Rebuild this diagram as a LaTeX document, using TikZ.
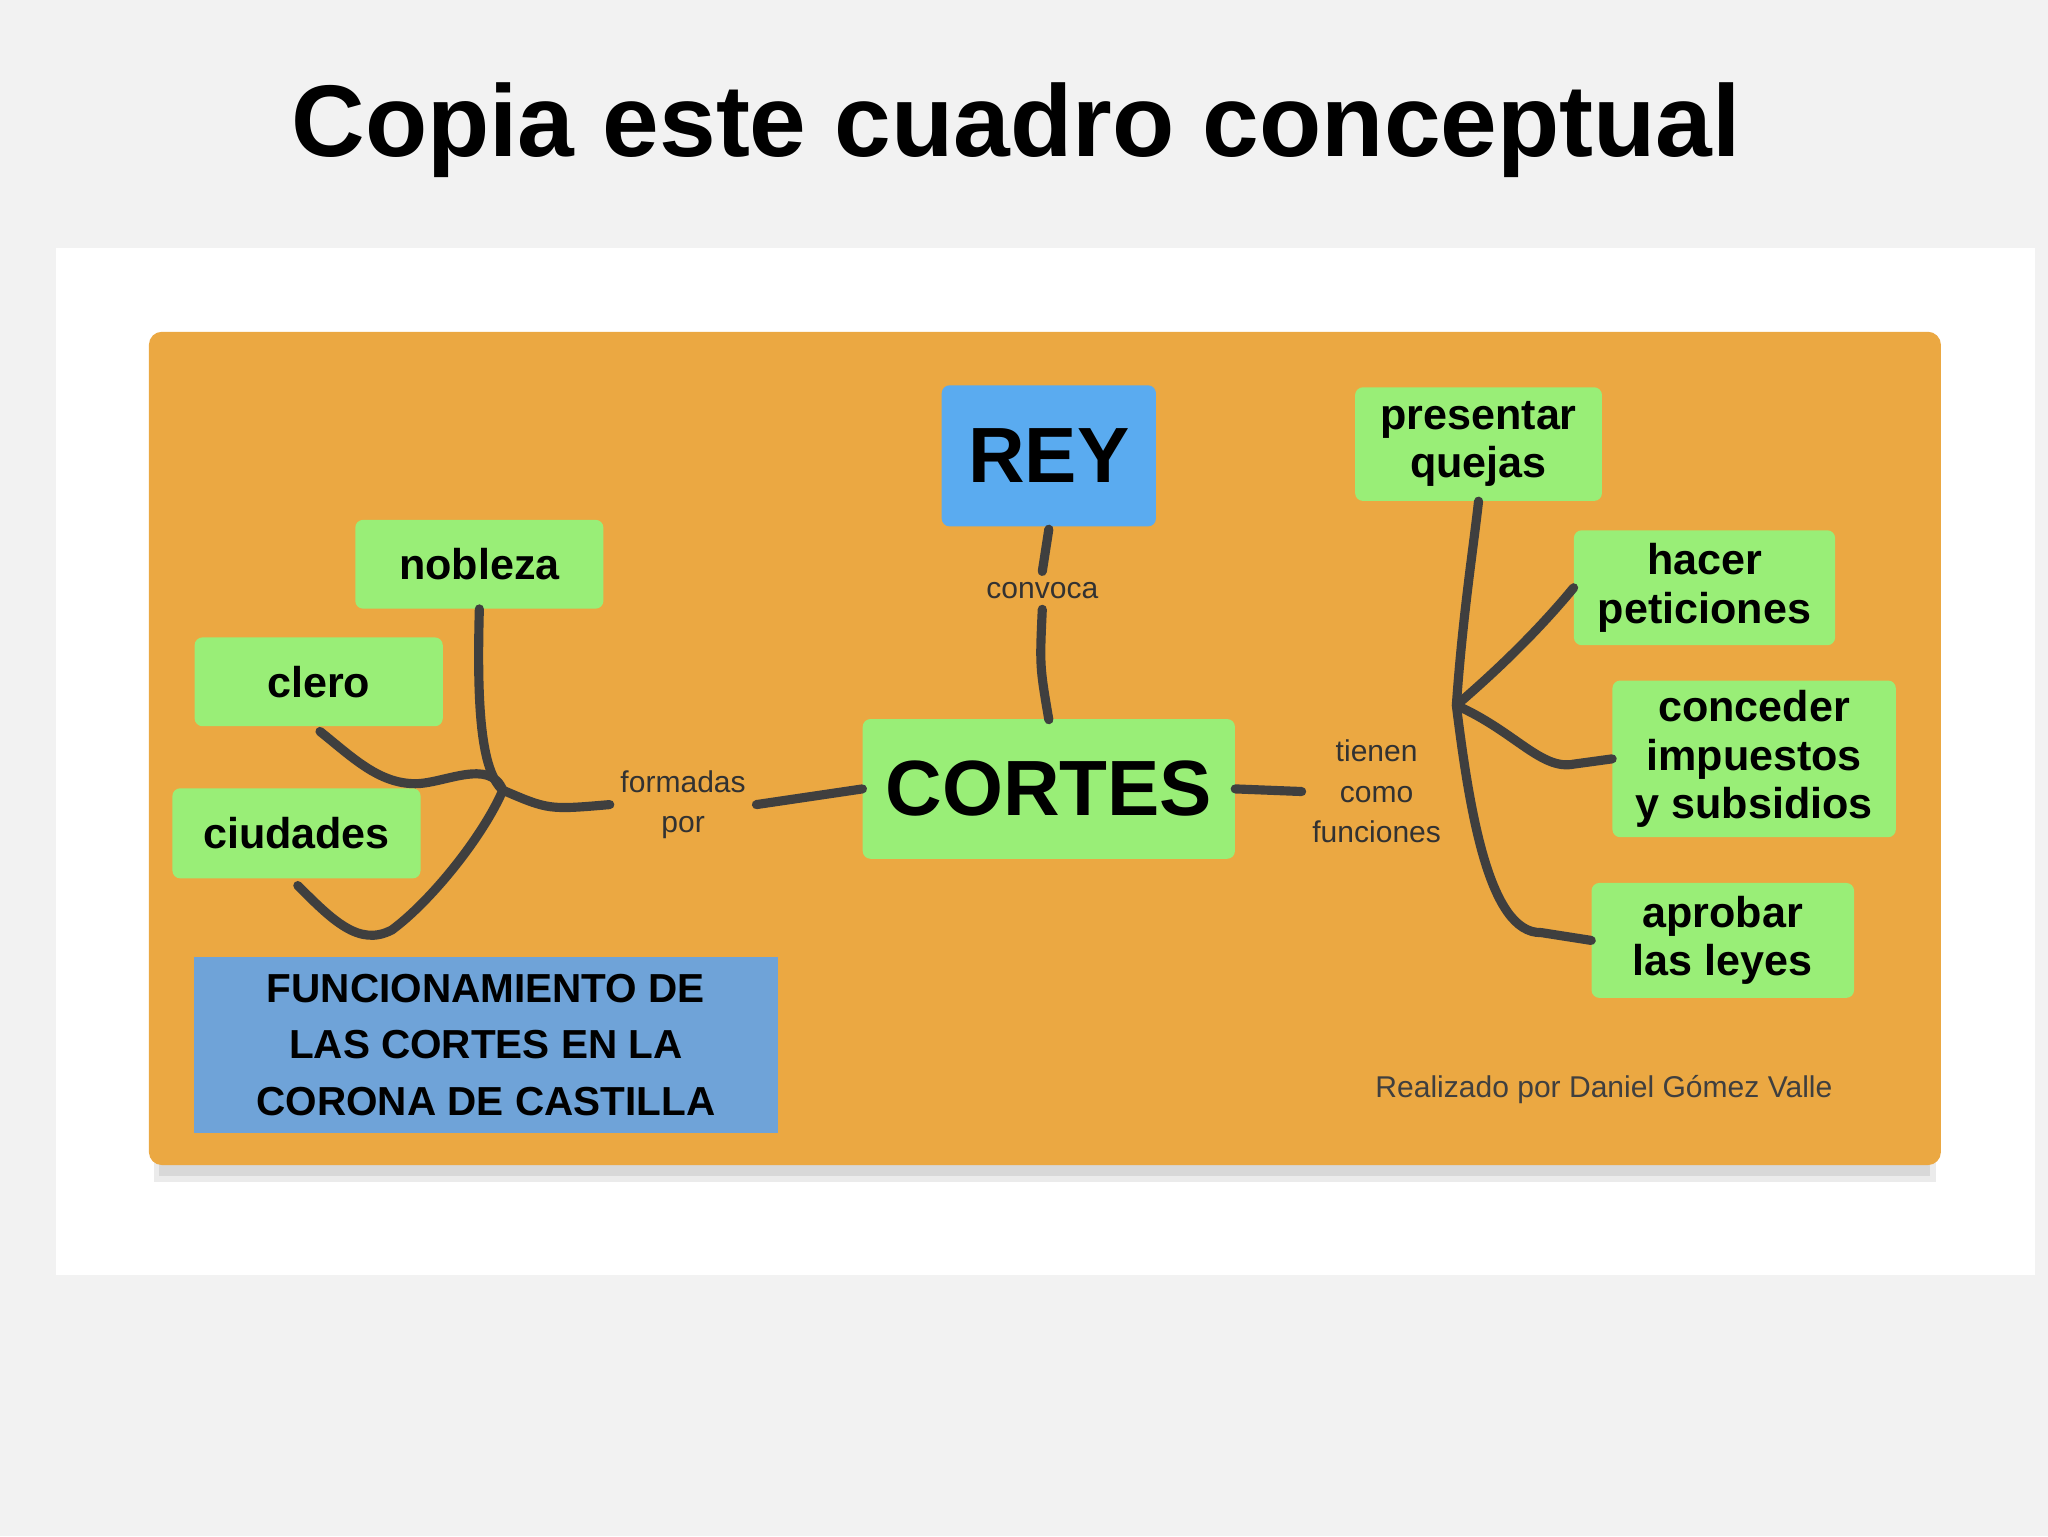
\documentclass[tikz,border=0pt]{standalone}
\usepackage{fontspec}
\setmainfont{Liberation Sans}
\usetikzlibrary{shadows}
\definecolor{bgc}{HTML}{F2F2F2}
\definecolor{orng}{HTML}{EBA842}
\definecolor{grn}{HTML}{99EE77}
\definecolor{blu}{HTML}{5AABF0}
\definecolor{blu2}{HTML}{6FA3D8}
\definecolor{ln}{HTML}{3F3F3F}
\tikzset{
  gbox/.style={fill=grn, rounded corners=6pt, font=\fontsize{33}{37}\selectfont\bfseries, align=center, inner sep=0pt},
  lab/.style={font=\fontsize{23}{31}\selectfont, text=ln!80!black, align=center, inner sep=8pt},
  con/.style={draw=ln, line width=7pt, line cap=round}
}
\begin{document}
\begin{tikzpicture}[x=1pt,y=-1pt]
\useasboundingbox (0,0) rectangle (1568,1176);
\fill[bgc] (0,0) rectangle (1568,1176);
\fill[white] (43,190) rectangle (1558,976);
\node[font=\fontsize{78}{80}\selectfont\bfseries] (title) at (778,100) {Copia este cuadro conceptual};
\fill[black, opacity=0.08] (118,262) rectangle (1482,905);
\fill[black, opacity=0.08] (122,266) rectangle (1478,900);
\fill[orng, rounded corners=10pt] (114,254) rectangle (1486,892);
% nodes
\node[fill=blu, rounded corners=6pt, minimum width=164, minimum height=108, font=\fontsize{60}{62}\selectfont\bfseries] (rey) at (803,349) {REY};
\node[gbox, minimum width=285, minimum height=107, font=\fontsize{60}{62}\selectfont\bfseries] (cortes) at (803,604) {CORTES};
\node[gbox, minimum width=190, minimum height=68] (nob) at (367,432) {nobleza};
\node[gbox, minimum width=190, minimum height=68] (cle) at (244,522) {clero};
\node[gbox, minimum width=190, minimum height=69] (ciu) at (227,638) {ciudades};
\node[fill=blu2, minimum width=447, minimum height=135, font=\fontsize{31}{43}\selectfont\bfseries, align=center, inner sep=0pt] (tit) at (372,800) {FUNCIONAMIENTO DE\\LAS CORTES EN LA\\CORONA DE CASTILLA};
\node[gbox, minimum width=189, minimum height=87] (pq) at (1132,340) {presentar\\quejas};
\node[gbox, minimum width=200, minimum height=88] (hp) at (1305,450) {hacer\\peticiones};
\node[gbox, minimum width=217, minimum height=120] (ci) at (1343,581) {conceder\\impuestos\\y subsidios};
\node[gbox, minimum width=201, minimum height=88] (al) at (1319,720) {aprobar\\las leyes};
\node[lab] (conv) at (798,452) {convoca};
\node[lab] (form) at (523,616) {formadas\\por};
\node[lab] (tien) at (1054,606) {tienen\\como\\funciones};
\node[font=\fontsize{23}{26}\selectfont, text=ln] (aut) at (1228,834) {Realizado por Daniel Gómez Valle};
% connectors
\coordinate (j1) at (385,605);
\coordinate (j2) at (1115,540);
\draw[con] (rey.south) ++(0,2) -- (conv.north);
\draw[con] (conv.south) .. controls (796,510) .. (803,551);
\draw[con] (cortes.west) -- (form.east);
\draw[con] (form.west) .. controls (420,620) .. (j1);
\draw[con] (nob.south) .. controls (365,540) and (368,590) .. (j1);
\draw[con] (j1) .. controls (375,580) and (340,600) .. (318,600) .. controls (290,600) and (270,580) .. (245,560);
\draw[con] (228,678) .. controls (255,705) and (275,725) .. (300,712) .. controls (330,690) and (370,640) .. (j1);
\draw[con] (cortes.east) -- (tien.west);
\draw[con] (j2) .. controls (1120,470) and (1128,420) .. (pq.south);
\draw[con] (j2) .. controls (1150,510) and (1180,480) .. (hp.west);
\draw[con] (j2) .. controls (1160,560) and (1180,590) .. (1205,585) -- (ci.west);
\draw[con] (j2) .. controls (1125,620) and (1140,715) .. (1180,714) -- (al.west);
\end{tikzpicture}
\end{document}
